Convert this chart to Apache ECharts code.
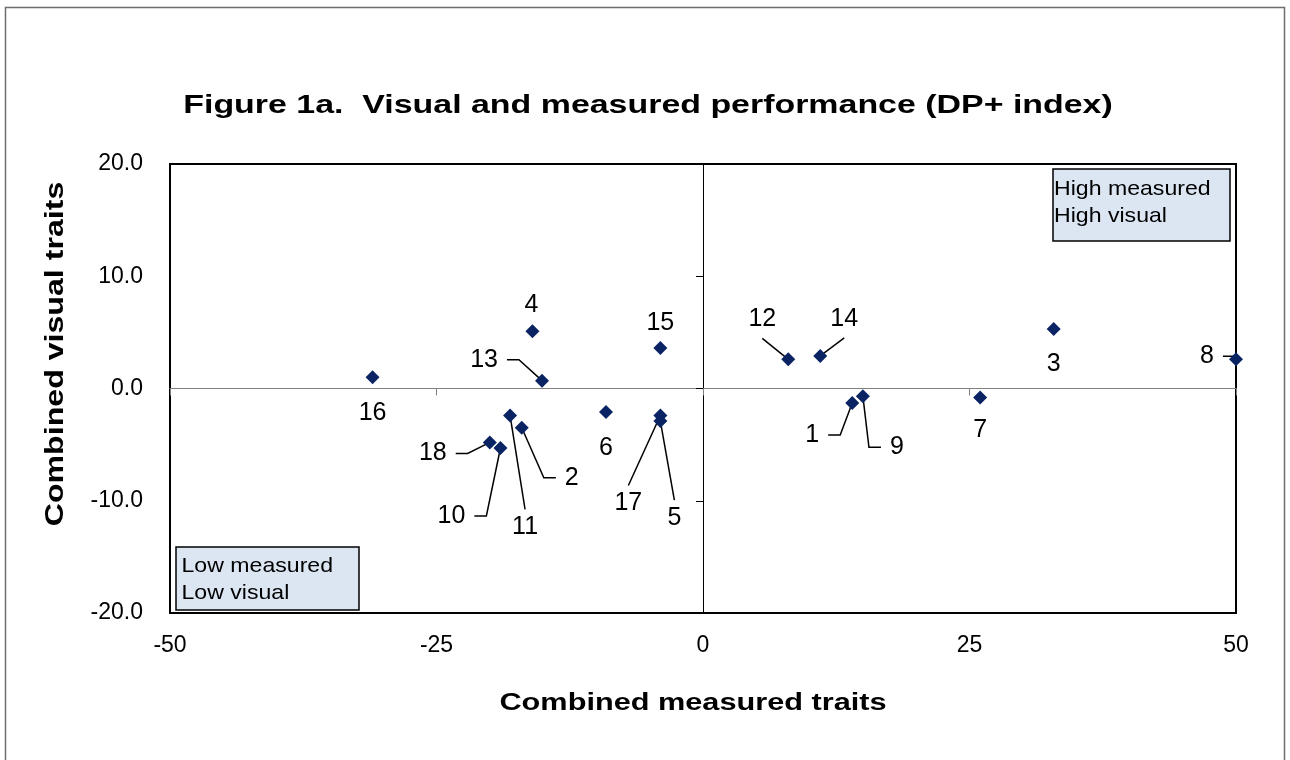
<!DOCTYPE html>
<html>
<head>
<meta charset="utf-8">
<script src="https://cdn.jsdelivr.net/npm/echarts@6/dist/echarts.min.js"></script>
<style>
  html, body { margin: 0; padding: 0; background: #fff; }
  #chart { width: 1290px; height: 760px; }
</style>
</head>
<body>
<div id="chart"></div>
<script>
// ---- Data ----
const pointIds = ['1','2','3','4','5','6','7','8','9','10','11','12','13','14','15','16','17','18'];
const measuredTraits = [14.0, -17.0, 32.9, -16.0, -4.0, -9.1, 26.0, 50.0, 15.0, -19.0, -18.1, 8.0, -15.1, 11.0, -4.0, -31.0, -4.0, -20.0];
const visualTraits   = [-1.3, -3.5, 5.3, 5.1, -2.9, -2.1, -0.8, 2.6, -0.7, -5.3, -2.4, 2.6, 0.7, 2.9, 3.6, 1.0, -2.4, -4.8];
const xTicks = [-50, -25, 0, 25, 50];
const yTicks = [-20, -10, 0, 10, 20];

// label placement: offset of label centre from its marker (px), and the side
// of the label where its leader line starts (null = no leader line)
const labelOffsets = [
  [-40, 32], [50, 50], [0, 35], [-1, -26], [14, 97], [0, 36], [0, 33], [-29, -3], [34, 51],
  [-49, 68], [15, 112], [-26, -40], [-58, -21], [24, -37], [0, -25], [0, 36], [-32, 88], [-57, 11]
];
const leaderSide = ['r', 'l', null, null, 't', null, null, 'r', 'l', 'r', 't', 'b', 'r', 'b', null, null, 't', 'r'];

const FONT = '"Liberation Sans", Arial, Helvetica, sans-serif';
const LABEL_FONT = '25px ' + FONT;

const measureCtx = document.createElement('canvas').getContext('2d');
measureCtx.font = LABEL_FONT;
function textWidth(t) { return measureCtx.measureText(t).width; }

const chart = echarts.init(document.getElementById('chart'), null, { renderer: 'canvas' });

const pointData = pointIds.map((id, i) => ({ name: id, value: [measuredTraits[i], visualTraits[i]] }));

function renderLabel(params, api) {
  const i = params.dataIndex;
  const c = api.coord([api.value(0), api.value(1)]);
  const off = labelOffsets[i];
  const lx = c[0] + off[0], ly = c[1] + off[1];
  const children = [{
    type: 'text', x: lx, y: ly,
    style: { text: pointIds[i], font: LABEL_FONT, fill: '#000',
      align: 'center', verticalAlign: 'middle', textAlign: 'center', textVerticalAlign: 'middle' }
  }];
  const side = leaderSide[i];
  if (side) {
    const hw = textWidth(pointIds[i]) / 2;
    const GAP = 9, ELBOW = 12;
    let s, e;
    if (side === 'r') { s = [lx + hw + GAP, ly]; e = [s[0] + ELBOW, ly]; }
    else if (side === 'l') { s = [lx - hw - GAP, ly]; e = [s[0] - ELBOW, ly]; }
    else if (side === 't') { s = [lx, ly - 18]; e = s; }
    else { s = [lx, ly + 19]; e = s; }
    children.push({
      type: 'polyline',
      shape: { points: [s, e, c] },
      style: { stroke: '#000', lineWidth: 1.5, fill: null }
    });
  }
  return { type: 'group', children: children };
}

function quadrantBox(x, y, w, h, lines, textX, firstY, lineGap) {
  const children = [{
    type: 'rect',
    shape: { x: x, y: y, width: w, height: h },
    style: { fill: '#dce6f2', stroke: '#000', lineWidth: 1.5 }
  }];
  lines.forEach((t, k) => {
    children.push({
      type: 'text',
      x: textX, y: firstY + k * lineGap, scaleX: 1.1,
      style: { text: t, font: '21px ' + FONT, fill: '#000', align: 'left', verticalAlign: 'middle', textAlign: 'left', textVerticalAlign: 'middle' }
    });
  });
  return { type: 'group', children: children, z: 10 };
}

const option = {
  backgroundColor: '#fff',
  animation: false,
  grid: {
    left: 170, top: 164, right: 54, bottom: 147,
    show: true, borderColor: '#000', borderWidth: 2, backgroundColor: 'transparent'
  },
  xAxis: [
    {
      type: 'value', min: xTicks[0], max: xTicks[xTicks.length - 1], interval: 25,
      position: 'bottom',
      axisLine: { show: false, onZero: false },
      axisTick: { show: false },
      splitLine: { show: false },
      axisLabel: { show: true, color: '#000', fontSize: 23, fontFamily: FONT, margin: 21 }
    },
    {
      type: 'value', min: xTicks[0], max: xTicks[xTicks.length - 1], interval: 25,
      position: 'top',
      axisLine: { show: true, onZero: true, lineStyle: { color: '#808080', width: 1 } },
      axisTick: { show: true, inside: true, length: 7, lineStyle: { color: '#808080', width: 1 } },
      splitLine: { show: false },
      axisLabel: { show: false }
    }
  ],
  yAxis: [
    {
      type: 'value', min: yTicks[0], max: yTicks[yTicks.length - 1], interval: 10,
      position: 'left',
      axisLine: { show: false, onZero: false },
      axisTick: { show: false },
      splitLine: { show: false },
      axisLabel: { show: true, color: '#000', fontSize: 23, fontFamily: FONT, margin: 27,
        formatter: v => v.toFixed(1) }
    },
    {
      type: 'value', min: yTicks[0], max: yTicks[yTicks.length - 1], interval: 10,
      position: 'right',
      axisLine: { show: true, onZero: true, lineStyle: { color: '#000', width: 1 } },
      axisTick: { show: true, inside: true, length: 7, lineStyle: { color: '#000', width: 1 } },
      splitLine: { show: false },
      axisLabel: { show: false }
    }
  ],
  series: [
    {
      type: 'custom',
      name: 'labels',
      coordinateSystem: 'cartesian2d',
      xAxisIndex: 0, yAxisIndex: 0,
      data: pointData,
      encode: { x: 0, y: 1 },
      renderItem: renderLabel,
      z: 4,
      silent: true
    },
    {
      type: 'scatter',
      name: 'points',
      xAxisIndex: 0, yAxisIndex: 0,
      clip: false,
      symbol: 'diamond',
      symbolSize: [14, 14],
      itemStyle: { color: '#0a2463', opacity: 1 },
      data: pointData,
      z: 5,
      label: { show: false },
      emphasis: { disabled: true }
    }
  ],
  graphic: [
    {
      type: 'rect', z: 0, silent: true,
      shape: { x: 5.5, y: 7.5, width: 1279, height: 800 },
      style: { fill: 'none', stroke: '#6e6e6e', lineWidth: 1.5 }
    },
    {
      type: 'text', x: 648, y: 106, scaleX: 1.33,
      style: { text: 'Figure 1a.  Visual and measured performance (DP+ index)', font: 'bold 25.5px ' + FONT, fill: '#000',
        align: 'center', verticalAlign: 'middle', textAlign: 'center', textVerticalAlign: 'middle' }
    },
    {
      type: 'text', x: 693, y: 704, scaleX: 1.306,
      style: { text: 'Combined measured traits', font: 'bold 23.5px ' + FONT, fill: '#000',
        align: 'center', verticalAlign: 'middle', textAlign: 'center', textVerticalAlign: 'middle' }
    },
    {
      type: 'text', x: 56, y: 354, scaleX: 1.26, rotation: Math.PI / 2,
      style: { text: 'Combined visual traits', font: 'bold 25.5px ' + FONT, fill: '#000',
        align: 'center', verticalAlign: 'middle', textAlign: 'center', textVerticalAlign: 'middle' }
    },
    quadrantBox(1053, 169, 177, 72, ['High measured', 'High visual'], 1054, 189, 27.5),
    quadrantBox(176, 547, 183, 63, ['Low measured', 'Low visual'], 181.5, 566, 27)
  ]
};

chart.setOption(option);
</script>
</body>
</html>
